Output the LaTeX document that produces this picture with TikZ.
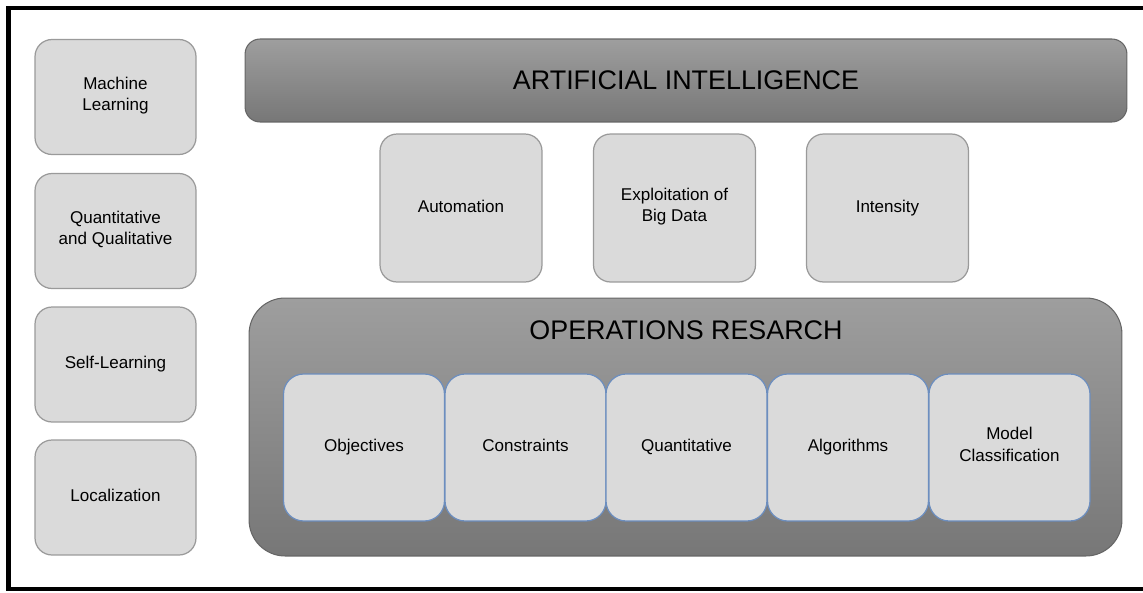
\documentclass[tikz,border=0pt]{standalone}
\usepackage{fontspec}
\setmainfont{Liberation Sans}
\definecolor{cardfill}{HTML}{DADADA}
\definecolor{cardline}{HTML}{9A9A9A}
\definecolor{partline}{HTML}{6C8EBF}
\definecolor{darktop}{HTML}{9E9E9E}
\definecolor{darkbot}{HTML}{777777}
\definecolor{darkline}{HTML}{666666}

\begin{document}
\begin{tikzpicture}[x=0.02cm,y=-0.02cm,
  card/.style={draw=cardline,fill=cardfill,line width=0.7pt,rounded corners=0.34cm,
    align=center,font=\fontsize{9.7}{12}\selectfont,inner sep=0pt,
    execute at begin node=\strut,execute at end node=\strut},
  sidecard/.style={card,minimum width=3.22cm,minimum height=2.3cm},
  topcard/.style={card,minimum width=3.24cm,minimum height=2.96cm},
  part/.style={card,draw=partline,minimum width=3.22cm,minimum height=2.94cm,rounded corners=0.4cm},
  banner/.style={draw=darkline,top color=darktop,bottom color=darkbot,line width=0.6pt,
    font=\fontsize{15.3}{18}\selectfont,inner sep=0pt}]
  \useasboundingbox (0,0) rectangle (1143,592);
  % frame, open on the right
  \draw[line width=2.6pt] (1150,8) -- (8.5,8) -- (8.5,589) -- (1150,589);
  \node[sidecard] (ml)    at (115.5,97)    {Machine\\Learning};
  \node[sidecard] (qq)    at (115.5,231)   {Quantitative\\and Qualitative};
  \node[sidecard] (self)  at (115.5,364.5) {Self-Learning};
  \node[sidecard] (local) at (115.5,497.5) {Localization};
  \node[banner,rounded corners=0.3cm,minimum width=17.64cm,minimum height=1.66cm] (ai) at (686,80.5) {ARTIFICIAL INTELLIGENCE};
  \node[topcard] (auto) at (461,208)   {Automation};
  \node[topcard] (big)  at (674.5,208) {Exploitation of\\Big Data};
  \node[topcard] (int)  at (887.5,208) {Intensity};
  \node[banner,rounded corners=0.72cm,minimum width=17.46cm,minimum height=5.16cm] (or) at (685.5,427) {};
  \node[font=\fontsize{15.3}{18}\selectfont] (ortitle) at (686,330) {OPERATIONS RESARCH};
  \node[part] (obj)   at (364,447.5)    {Objectives};
  \node[part] (con)   at (525.5,447.5)  {Constraints};
  \node[part] (quant) at (686.5,447.5)  {Quantitative};
  \node[part] (alg)   at (848,447.5)    {Algorithms};
  \node[part] (model) at (1009.5,447.5) {Model\\Classification};
\end{tikzpicture}
\end{document}
